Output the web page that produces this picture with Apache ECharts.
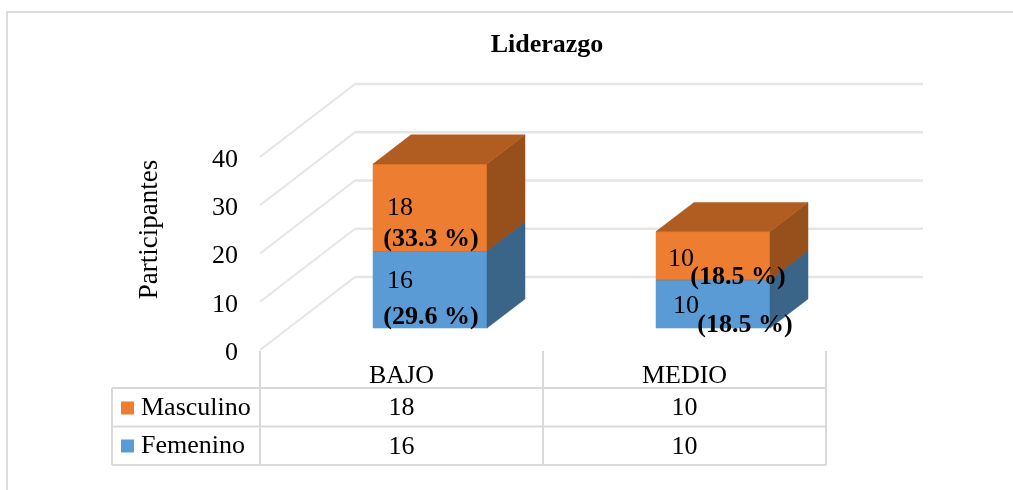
<!DOCTYPE html>
<html><head><meta charset="utf-8">
<style>html,body{margin:0;padding:0;background:#fff}#c{width:1013px;height:490px}</style>
<script src="https://cdn.jsdelivr.net/npm/echarts@6/dist/echarts.min.js"></script>
</head><body><div id="c"></div>
<script>
const categories = ['BAJO', 'MEDIO'];
const femenino = [16, 10];
const masculino = [18, 10];
const femeninoPct = ['(29.6 %)', '(18.5 %)'];
const masculinoPct = ['(33.3 %)', '(18.5 %)'];
const yTicks = [0, 10, 20, 30, 40];

const FONT = '"Liberation Serif","Times New Roman",serif';
const GRID = {left: 260, right: 187, top: 157, bottom: 140};
const DEPTH = {x: 95, y: -73};
const BAR_FRONT = 0.3, BAR_DEPTH = 0.4, BAR_W = 114;
const GRIDLINE = '#e5e5e5';
const TABLE = '#d9d9d9';
const ROWS = [388, 426.5, 465];
const TABLE_LEFT = 112;

const chart = echarts.init(document.getElementById('c'), null, {renderer: 'canvas'});

function line(x1, y1, x2, y2, color, w) {
  return {type: 'line', shape: {x1, y1, x2, y2}, style: {stroke: color, lineWidth: w || 2}, silent: true};
}
function poly(points, fill) {
  return {type: 'polygon', shape: {points}, style: {fill, stroke: fill, lineWidth: 0.5}};
}
function txt(x, y, text, bold, align) {
  return {type: 'text', z2: 50, style: {x, y, text, fill: '#000', align: align || 'center', verticalAlign: 'middle',
    font: (bold ? 'bold ' : '') + '26px ' + FONT}};
}

function boxSeries(name, values, below, pct, front, side, top, labelOffsets) {
  return {
    name, type: 'custom', coordinateSystem: 'cartesian2d', z: 5,
    itemStyle: {color: front},
    data: values.map((v, i) => [i, v, below[i]]),
    encode: {x: 0, y: 1},
    renderItem(params, api) {
      const i = api.value(0), v = api.value(1), b = api.value(2);
      const c = api.coord([i, b]), c2 = api.coord([i, b + v]);
      const fx = BAR_FRONT * DEPTH.x, fy = BAR_FRONT * DEPTH.y;
      const dx = BAR_DEPTH * DEPTH.x, dy = BAR_DEPTH * DEPTH.y;
      const x0 = c[0] - BAR_W / 2 + fx, x1 = x0 + BAR_W;
      const yb = c[1] + fy, yt = c2[1] + fy;
      const o = labelOffsets[i];
      return {type: 'group', children: [
        poly([[x0, yb], [x1, yb], [x1, yt], [x0, yt]], front),
        poly([[x1, yb], [x1 + dx, yb + dy], [x1 + dx, yt + dy], [x1, yt]], side),
        poly([[x0, yt], [x1, yt], [x1 + dx, yt + dy], [x0 + dx, yt + dy]], top),
        txt(x0 + o[0], yb + o[1], String(v), false),
        txt(x0 + o[2], yb + o[3], pct[i], true)
      ]};
    }
  };
}

const below = femenino.map(() => 0);

chart.setOption({
  animation: false,
  backgroundColor: '#fff',
  textStyle: {fontFamily: FONT},
  title: {text: 'Liderazgo', left: 542, top: 27, textAlign: 'center',
    textStyle: {fontFamily: FONT, fontSize: 26, fontWeight: 'bold', color: '#000'}},
  legend: {
    orient: 'vertical', left: 116, top: 390, itemGap: 12, itemWidth: 13, itemHeight: 13,
    icon: 'rect', selectedMode: false, data: ['Masculino', 'Femenino'],
    textStyle: {fontFamily: FONT, fontSize: 26, color: '#000', padding: [0, 0, 0, 2]}
  },
  grid: GRID,
  xAxis: {type: 'category', data: categories, boundaryGap: true,
    axisLine: {show: false}, axisTick: {show: false},
    axisLabel: {fontFamily: FONT, fontSize: 26, color: '#000', margin: 13, interval: 0}},
  yAxis: {type: 'value', min: 0, max: 40, interval: 10,
    name: 'Participantes', nameLocation: 'middle', nameGap: 97, nameRotate: 90,
    nameTextStyle: {fontFamily: FONT, fontSize: 27, color: '#000', padding: [0, 0, 0, 48]},
    axisLine: {show: false}, axisTick: {show: false}, splitLine: {show: false},
    axisLabel: {margin: 22, formatter: '{a|{value}}',
      rich: {a: {fontFamily: FONT, fontSize: 26, color: '#000', padding: [6, 0, 0, 0]}}}},
  series: [
    {
      name: 'walls', type: 'custom', z: 1, silent: true, data: yTicks.map(t => [0, t]),
      encode: {x: 0, y: 1},
      renderItem(params, api) {
        const t = api.value(1);
        const p = api.coord([0, t]);
        const left = p[0] - api.size([1, 0])[0] / 2;
        const w = api.size([1, 0])[0] * categories.length;
        return {type: 'group', children: [
          line(left, p[1], left + DEPTH.x, p[1] + DEPTH.y, GRIDLINE, 2),
          line(left + DEPTH.x, p[1] + DEPTH.y, left + w + DEPTH.x + 2, p[1] + DEPTH.y, GRIDLINE, 2.5)
        ]};
      }
    },
    boxSeries('Femenino', femenino, below, femeninoPct, '#5b9bd5', '#3a6488', '#3a6488',
      [[27, -47, 58, -11], [30, -22, 89, -3]]),
    boxSeries('Masculino', masculino, femenino, masculinoPct, '#ed7d31', '#97501c', '#b15c21',
      [[27, -43, 58, -12], [25, -21, 82, -3]]),
    {
      name: 'table', type: 'custom', z: 3, silent: true,
      data: categories.map((c, i) => [i, 0]),
      encode: {x: 0, y: 1},
      renderItem(params, api) {
        const i = api.value(0);
        const p = api.coord([i, 0]);
        const w = api.size([1, 0])[0];
        const l = p[0] - w / 2, r = p[0] + w / 2;
        const kids = [
          line(l, p[1] + 1, l, ROWS[2], TABLE),
          line(r, p[1] + 1, r, ROWS[2], TABLE),
          line(i === 0 ? TABLE_LEFT : l, ROWS[0], r, ROWS[0], TABLE),
          line(i === 0 ? TABLE_LEFT : l, ROWS[1], r, ROWS[1], TABLE),
          line(i === 0 ? TABLE_LEFT : l, ROWS[2], r, ROWS[2], TABLE),
          txt(p[0], (ROWS[0] + ROWS[1]) / 2 + 1, String(masculino[i]), false),
          txt(p[0], (ROWS[1] + ROWS[2]) / 2 + 1, String(femenino[i]), false)
        ];
        if (i === 0) kids.push(line(TABLE_LEFT, ROWS[0], TABLE_LEFT, ROWS[2], TABLE));
        return {type: 'group', children: kids};
      }
    }
  ],
  graphic: [
    {type: 'polyline', shape: {points: [[7, 490], [7, 12], [1013, 12]]},
      style: {stroke: '#dcdcdc', lineWidth: 2, fill: null}, silent: true, z: 0}
  ]
});
</script></body></html>
